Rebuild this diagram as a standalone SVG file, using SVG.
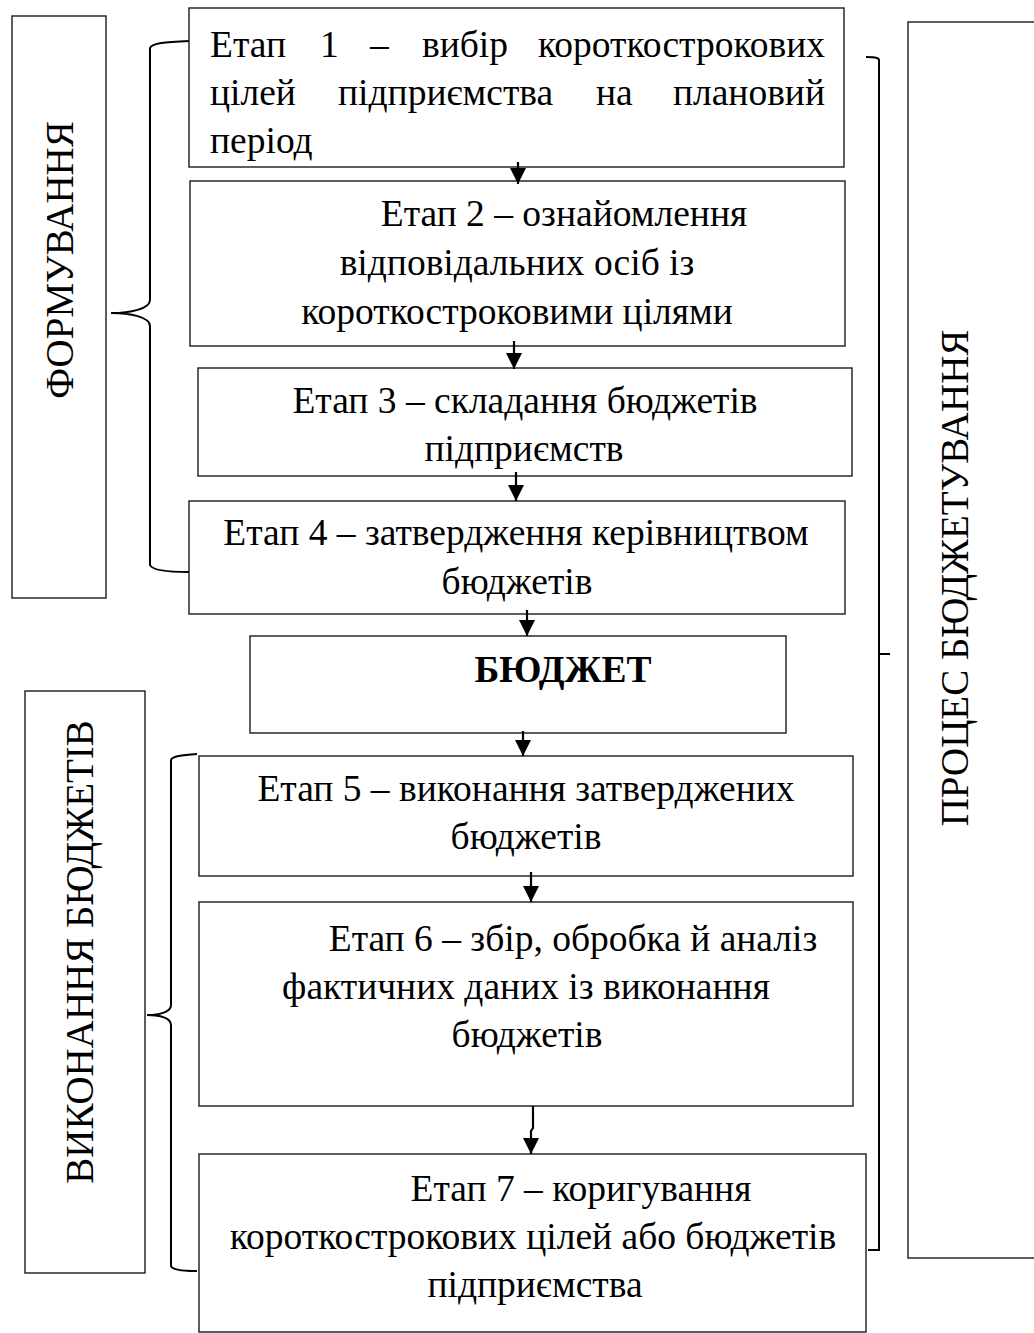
<svg xmlns="http://www.w3.org/2000/svg" width="1034" height="1333" viewBox="0 0 1034 1333">
  <style>
    .box { fill: #ffffff; stroke: #1a1a1a; stroke-width: 1.4; }
    .brace { fill: none; stroke: #000000; stroke-width: 2; }
    .t { font-family: "Liberation Serif", "Times New Roman", serif; font-size: 37.5px; fill: #000000; }
    .v { font-size: 39px; }
    .c { text-anchor: middle; }
    .e { text-anchor: end; }
    .b { font-weight: bold; }
    .link { fill: none; stroke: #000000; stroke-width: 2.2; }
  </style>
  <defs>
    <marker id="head" viewBox="0 0 10 10" refX="10" refY="5" markerWidth="17" markerHeight="16" markerUnits="userSpaceOnUse" orient="auto">
      <path d="M0,0 L10,5 L0,10 Z" fill="#000000"/>
    </marker>
  </defs>
  <rect width="1034" height="1333" fill="#ffffff"/>

  <!-- side panels -->
  <g id="side-formation">
    <rect class="box" x="12" y="16" width="94" height="582"/>
    <text class="t v c" transform="translate(73,260) rotate(-90)">ФОРМУВАННЯ</text>
  </g>
  <g id="side-execution">
    <rect class="box" x="25" y="691" width="120" height="582"/>
    <text class="t v c" transform="translate(93,952) rotate(-90)">ВИКОНАННЯ БЮДЖЕТІВ</text>
  </g>
  <g id="side-process">
    <rect class="box" x="908" y="22" width="140" height="1236"/>
    <text class="t v c" transform="translate(968,578) rotate(-90)">ПРОЦЕС БЮДЖЕТУВАННЯ</text>
  </g>

  <!-- braces -->
  <g id="braces">
    <path class="brace" d="M189,41 C165,42 152,43 150,48 L150,300 C150,309 130,313 111,313 C130,313 150,317 150,326 L150,565 C152,570 165,572 189,572"/>
    <path class="brace" d="M197,754 C182,755 172,756 171,760 L171,1005 C171,1012 160,1015 147,1015 C160,1015 171,1018 171,1025 L171,1266 C172,1270 182,1271 197,1271"/>
    <path class="brace" d="M866,57 C872,57 879,57 879,60 L879,654 L890,654 M879,654 L879,1250 L868,1250"/>
  </g>

  <!-- stage boxes -->
  <g id="stage1">
    <rect class="box" x="189" y="8" width="655" height="159"/>
    <!-- justified lines: words placed one by one -->
    <text class="t" x="210" y="57">Етап</text>
    <text class="t" x="320" y="57">1</text>
    <text class="t" x="370" y="57">–</text>
    <text class="t" x="422" y="57">вибір</text>
    <text class="t e" x="825" y="57">короткострокових</text>
    <text class="t" x="210" y="105">цілей</text>
    <text class="t" x="338" y="105">підприємства</text>
    <text class="t" x="596" y="105">на</text>
    <text class="t e" x="825" y="105">плановий</text>
    <text class="t" x="210" y="153">період</text>
  </g>
  <g id="stage2">
    <rect class="box" x="190" y="181" width="655" height="165"/>
    <text class="t c" x="564" y="226">Етап 2 – ознайомлення</text>
    <text class="t c" x="517" y="275">відповідальних осіб із</text>
    <text class="t c" x="517" y="324">короткостроковими цілями</text>
  </g>
  <g id="stage3">
    <rect class="box" x="198" y="368" width="654" height="108"/>
    <text class="t c" x="525" y="413">Етап 3 – складання бюджетів</text>
    <text class="t c" x="524" y="461">підприємств</text>
  </g>
  <g id="stage4">
    <rect class="box" x="189" y="501" width="656" height="113"/>
    <text class="t c" x="516" y="545">Етап 4 – затвердження керівництвом</text>
    <text class="t c" x="517" y="594">бюджетів</text>
  </g>
  <g id="budget">
    <rect class="box" x="250" y="636" width="536" height="97"/>
    <text class="t c b" x="563" y="682">БЮДЖЕТ</text>
  </g>
  <g id="stage5">
    <rect class="box" x="199" y="756" width="654" height="120"/>
    <text class="t c" x="526" y="801">Етап 5 – виконання затверджених</text>
    <text class="t c" x="526" y="849">бюджетів</text>
  </g>
  <g id="stage6">
    <rect class="box" x="199" y="902" width="654" height="204"/>
    <text class="t c" x="573" y="951">Етап 6 – збір, обробка й аналіз</text>
    <text class="t c" x="526" y="999">фактичних даних із виконання</text>
    <text class="t c" x="527" y="1047">бюджетів</text>
  </g>
  <g id="stage7">
    <rect class="box" x="199" y="1154" width="667" height="178"/>
    <text class="t c" x="581" y="1201">Етап 7 – коригування</text>
    <text class="t c" x="533" y="1249">короткострокових цілей або бюджетів</text>
    <text class="t c" x="535" y="1297">підприємства</text>
  </g>

  <!-- connectors -->
  <g id="connectors">
    <path class="link" d="M518,162 L518,184" marker-end="url(#head)"/>
    <path class="link" d="M514,341 L514,369" marker-end="url(#head)"/>
    <path class="link" d="M516,472 L516,501" marker-end="url(#head)"/>
    <path class="link" d="M527,610 L527,636" marker-end="url(#head)"/>
    <path class="link" d="M523,731 L523,756" marker-end="url(#head)"/>
    <path class="link" d="M531,872 L531,902" marker-end="url(#head)"/>
    <path class="link" d="M533,1106 L533,1128 L531,1131 L531,1154" marker-end="url(#head)"/>
  </g>
</svg>
